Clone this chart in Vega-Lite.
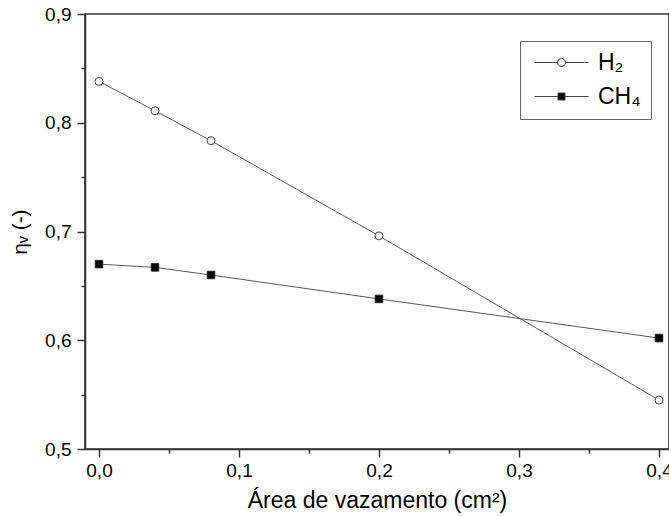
{
  "$schema": "https://vega.github.io/schema/vega-lite/v6.json",
  "width": 584,
  "height": 435,
  "autosize": "none",
  "padding": {"left": 85, "top": 14, "right": 0, "bottom": 67},
  "background": "white",
  "config": {
    "font": "Liberation Sans",
    "view": {"stroke": "#333333", "strokeWidth": 1.5},
    "axis": {
      "grid": false,
      "domainColor": "#333333",
      "domainWidth": 1.5,
      "tickColor": "#333333",
      "tickWidth": 1.5,
      "labelFont": "Liberation Sans",
      "labelFontSize": 19,
      "labelColor": "#000000",
      "titleFont": "Liberation Sans",
      "titleFontWeight": "normal",
      "titleColor": "#000000"
    }
  },
  "data": {
    "values": [
      {"gas": "H₂", "area": 0.0, "eta": 0.838},
      {"gas": "H₂", "area": 0.04, "eta": 0.811},
      {"gas": "H₂", "area": 0.08, "eta": 0.7835},
      {"gas": "H₂", "area": 0.2, "eta": 0.696},
      {"gas": "H₂", "area": 0.4, "eta": 0.545},
      {"gas": "CH₄", "area": 0.0, "eta": 0.670},
      {"gas": "CH₄", "area": 0.04, "eta": 0.667},
      {"gas": "CH₄", "area": 0.08, "eta": 0.660},
      {"gas": "CH₄", "area": 0.2, "eta": 0.638},
      {"gas": "CH₄", "area": 0.4, "eta": 0.602}
    ]
  },
  "encoding": {
    "x": {
      "field": "area",
      "type": "quantitative",
      "scale": {"domain": [-0.01, 0.40714], "nice": false, "zero": false},
      "axis": {
        "title": "Área de vazamento (cm²)",
        "titleFontSize": 23,
        "titlePadding": 9,
        "values": [0, 0.05, 0.1, 0.15, 0.2, 0.25, 0.3, 0.35, 0.4],
        "labelExpr": "round(datum.value*100) % 10 == 0 ? replace(format(datum.value, '.1f'), '.', ',') : ''",
        "tickSize": {"condition": {"test": "round(datum.value*100) % 10 == 0", "value": 8}, "value": 4},
        "labelPadding": 4,
        "labelFlush": false,
        "labelOverlap": false
      }
    },
    "y": {
      "field": "eta",
      "type": "quantitative",
      "scale": {"domain": [0.5, 0.9], "nice": false, "zero": false},
      "axis": {
        "title": "ηᵥ (-)",
        "titleFontSize": 21,
        "titlePadding": 14,
        "values": [0.5, 0.55, 0.6, 0.65, 0.7, 0.75, 0.8, 0.85, 0.9],
        "labelExpr": "round(datum.value*100) % 10 == 0 ? replace(format(datum.value, '.1f'), '.', ',') : ''",
        "tickSize": {"condition": {"test": "round(datum.value*100) % 10 == 0", "value": 8}, "value": 4},
        "labelPadding": 6,
        "labelFlush": false,
        "labelOverlap": false
      }
    }
  },
  "layer": [
    {
      "mark": {"type": "line", "color": "#5a5a5a", "strokeWidth": 1},
      "encoding": {"detail": {"field": "gas"}}
    },
    {
      "transform": [{"filter": "datum.gas == 'H₂'"}],
      "mark": {"type": "point", "shape": "circle", "filled": true, "fill": "#ffffff", "size": 64, "stroke": "#444444", "strokeWidth": 1, "opacity": 1}
    },
    {
      "transform": [{"filter": "datum.gas == 'CH₄'"}],
      "mark": {"type": "point", "shape": "square", "filled": true, "fill": "#000000", "size": 56, "stroke": "#222222", "strokeWidth": 1, "opacity": 1}
    },
    {
      "transform": [{"filter": "datum.eta > 5"}],
      "mark": {"type": "point", "filled": true, "stroke": "#444444", "strokeWidth": 1, "opacity": 1},
      "encoding": {
        "fill": {
          "field": "gas",
          "type": "nominal",
          "scale": {"domain": ["H₂", "CH₄"], "range": ["#ffffff", "#000000"]},
          "legend": {
            "title": null,
            "orient": "none",
            "legendX": 435,
            "legendY": 27,
            "strokeColor": "#666666",
            "fillColor": "white",
            "padding": 10,
            "symbolSize": 400,
            "symbolOffset": 20,
            "labelOffset": 25,
            "rowPadding": 10,
            "symbolType": {"expr": "datum.value == 'H₂' ? 'M-2.7,0L-0.4,0M0.4,0L2.7,0M-0.4,0A0.4,0.4 0 1 1 0.4,0A0.4,0.4 0 1 1 -0.4,0Z' : 'M-2.7,0L-0.35,0M0.35,0L2.7,0M-0.35,-0.35L0.35,-0.35L0.35,0.35L-0.35,0.35Z'"},
            "symbolStrokeColor": "#444444",
            "symbolStrokeWidth": 1,
            "labelFont": "Liberation Sans",
            "labelFontSize": 23,
            "labelColor": "#000000"
          }
        }
      }
    }
  ]
}
